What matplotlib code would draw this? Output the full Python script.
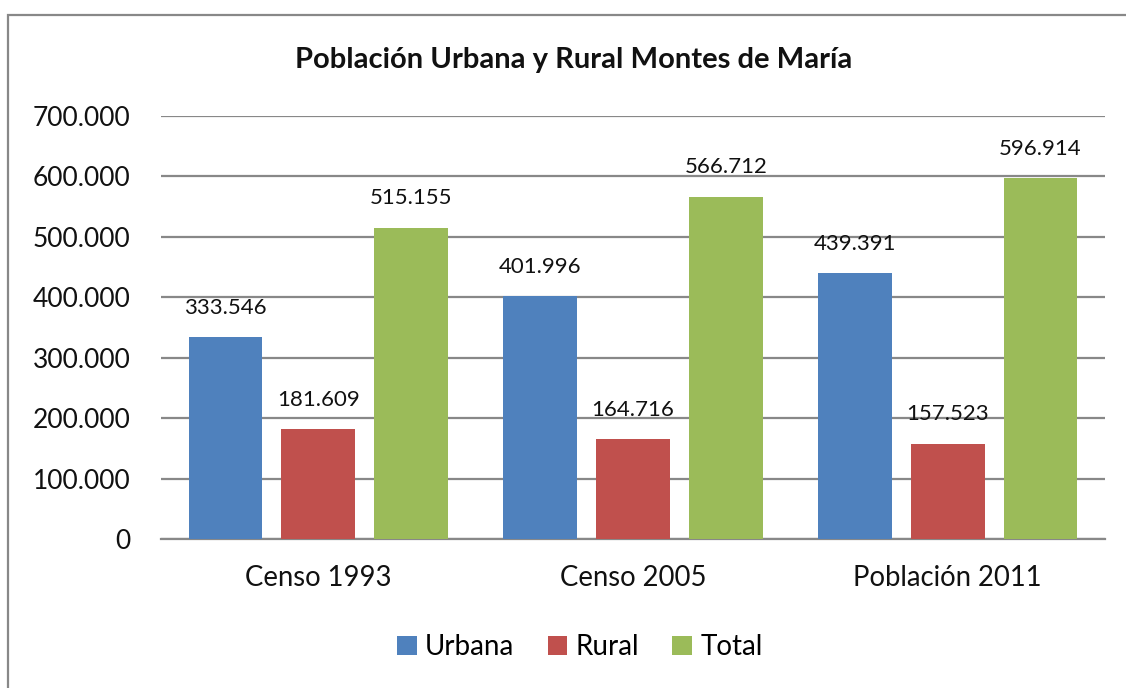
import numpy as np
import matplotlib
matplotlib.use("Agg")
import matplotlib.pyplot as plt
from matplotlib.patches import Rectangle
from matplotlib.ticker import FuncFormatter

categories = ["Censo 1993", "Censo 2005", "Población 2011"]
series_names = ["Urbana", "Rural", "Total"]
urbana = [333546, 401996, 439391]
rural = [181609, 164716, 157523]
total = [515155, 566712, 596914]
colors = ["#4F81BD", "#C0504D", "#9BBB59"]
yticks = np.arange(0, 700001, 100000)

plt.rcParams['font.family'] = ['Lato', 'DejaVu Sans']

fig = plt.figure(figsize=(11.26, 6.88), dpi=100)
ax = fig.add_axes([161 / 1126, 1 - 539 / 688, 944 / 1126, 423 / 688])

# outer frame (clipped at right/bottom like the screenshot)
fig.patches.append(Rectangle((8 / 1126, -0.1), 1.2, 0.1 + (688 - 15) / 688,
                             transform=fig.transFigure, fill=False,
                             edgecolor="#888888", linewidth=1.6))

x = np.arange(len(categories))
width = 0.235
step = 0.295
for k, (name, vals) in enumerate(zip(series_names, [urbana, rural, total])):
    bars = ax.bar(x + (k - 1) * step, vals, width, color=colors[k], label=name, zorder=3)
    for b, v in zip(bars, vals):
        ax.annotate(f"{v:,}".replace(",", "."), (b.get_x() + b.get_width() / 2, v),
                    xytext=(0, 14), textcoords="offset points",
                    ha="center", va="bottom", fontsize=16, color="#111111")

ax.set_xlim(-0.5, 2.5)
ax.set_ylim(0, 700000)
ax.set_yticks(yticks)
ax.yaxis.set_major_formatter(FuncFormatter(lambda v, p: f"{int(v):,}".replace(",", ".")))
ax.set_xticks(x)
ax.set_xticklabels(categories)
ax.tick_params(axis="y", length=0, pad=22, labelsize=19, labelcolor="#111111")
ax.tick_params(axis="x", length=0, pad=19, labelsize=19.8, labelcolor="#111111")
ax.grid(axis="y", color="#888888", linewidth=1.6, zorder=0)
for s in ["top", "left", "right"]:
    ax.spines[s].set_visible(False)
ax.spines["bottom"].set_color("#888888")
ax.spines["bottom"].set_linewidth(1.6)

fig.text(574 / 1126, 1 - 60 / 688, "Población Urbana y Rural Montes de María",
         ha="center", va="center", fontsize=21, fontweight="bold", color="#111111")

fig.legend(loc="center", bbox_to_anchor=(580 / 1126, 1 - 647 / 688), ncol=3,
           frameon=False, fontsize=20, handlelength=0.7, handleheight=0.7,
           handletextpad=0.3, columnspacing=1.2)

fig.savefig("out.png", dpi=100)
